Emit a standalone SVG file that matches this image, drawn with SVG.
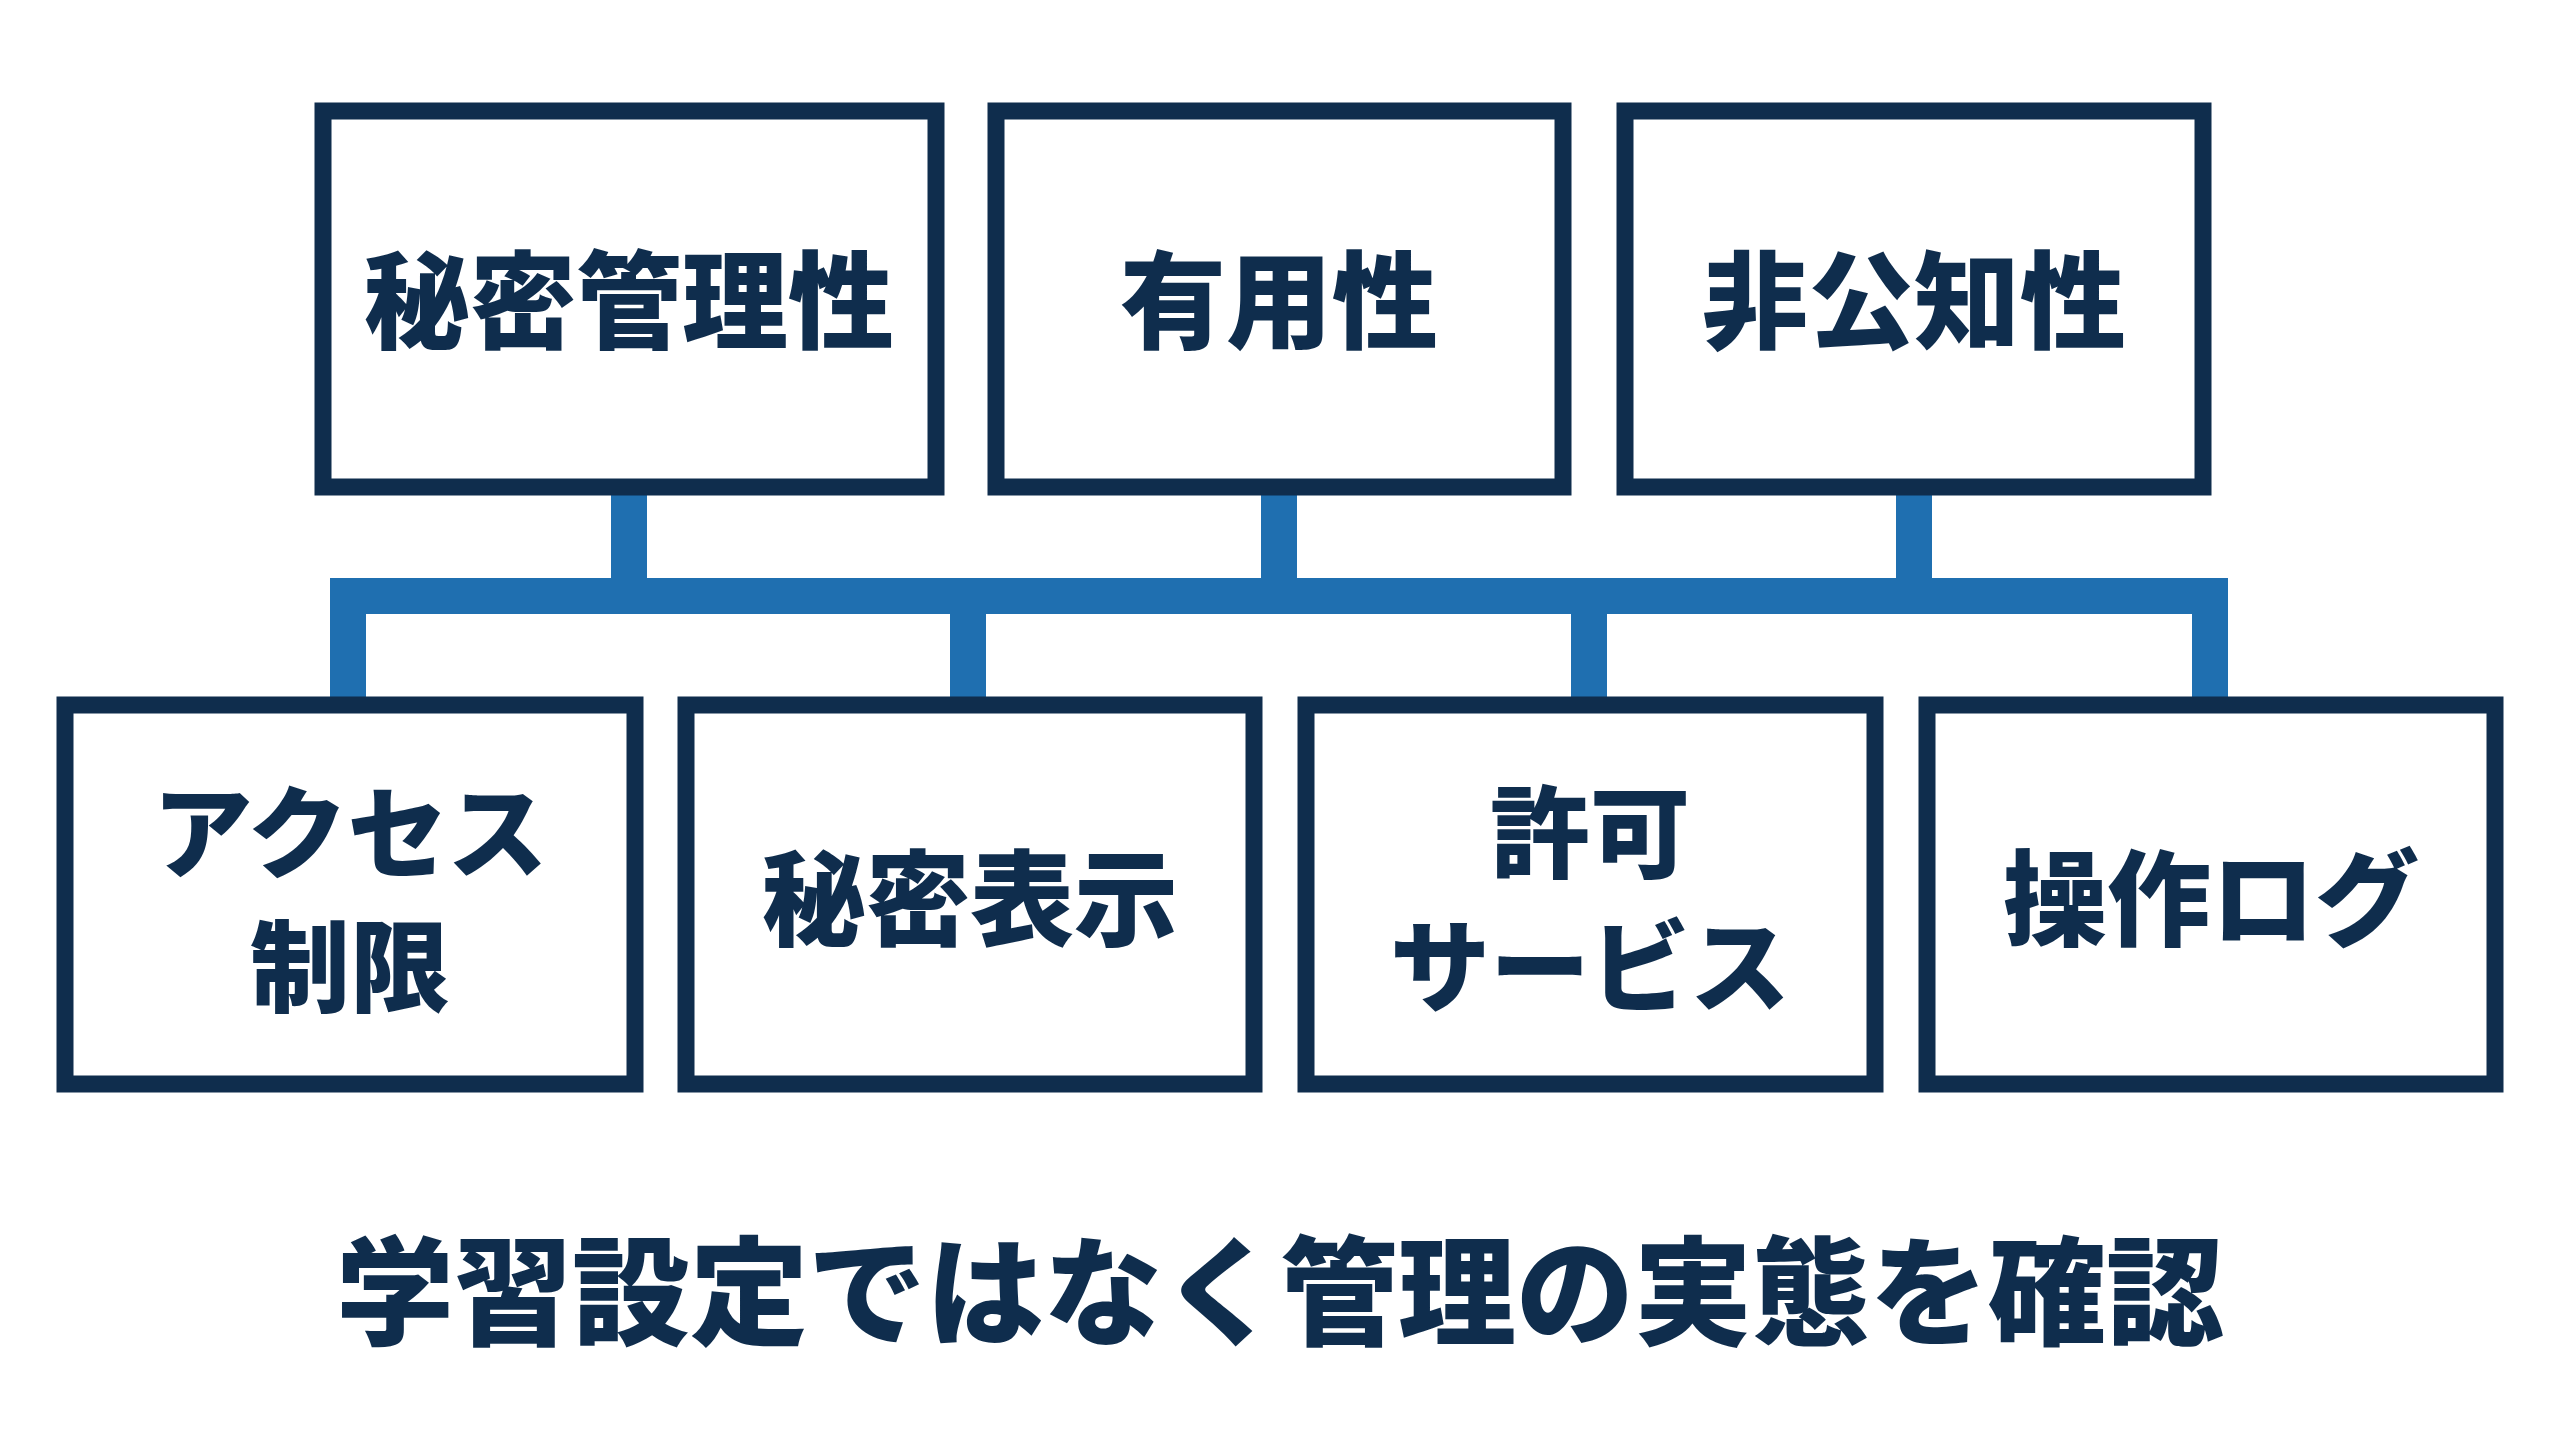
<svg xmlns="http://www.w3.org/2000/svg" width="2560" height="1429" viewBox="0 0 2560 1429">
<style>
.b{fill:#fff;stroke:#0f2d4d;stroke-width:17}
.t{font-family:"Noto Sans CJK JP",sans-serif;font-weight:900;fill:#0f2d4d;text-anchor:middle;dominant-baseline:central}
.c{fill:none;stroke:#1f6fb0;stroke-width:36;stroke-linejoin:miter}
</style>
<rect width="2560" height="1429" fill="#fff"/>
<g id="connectors">
<path class="c" d="M629 487V596M1279 487V596M1914 487V596M968 596V705M1589 596V705M348 705V596H2210V705"/>
</g>
<g id="n1"><rect class="b" x="323" y="111" width="613" height="376"/><text class="t" x="629" y="294" font-size="106">秘密管理性</text></g>
<g id="n2"><rect class="b" x="996" y="111" width="567" height="376"/><text class="t" x="1279" y="294" font-size="106">有用性</text></g>
<g id="n3"><rect class="b" x="1625" y="111" width="578" height="376"/><text class="t" x="1914" y="294" font-size="106">非公知性</text></g>
<g id="n4"><rect class="b" x="65" y="705" width="570" height="379"/><text class="t" x="350" y="826" font-size="100">アクセス</text><text class="t" x="350" y="960" font-size="100">制限</text></g>
<g id="n5"><rect class="b" x="686" y="705" width="568" height="379"/><text class="t" x="970" y="892" font-size="104">秘密表示</text></g>
<g id="n6"><rect class="b" x="1306" y="705" width="569" height="379"/><text class="t" x="1590" y="826" font-size="100">許可</text><text class="t" x="1590" y="960" font-size="100">サービス</text></g>
<g id="n7"><rect class="b" x="1927" y="705" width="568" height="379"/><text class="t" x="2211" y="892" font-size="104">操作ログ</text></g>
<g id="caption"><text class="t" x="1280" y="1284" font-size="118">学習設定ではなく管理の実態を確認</text></g>
</svg>
